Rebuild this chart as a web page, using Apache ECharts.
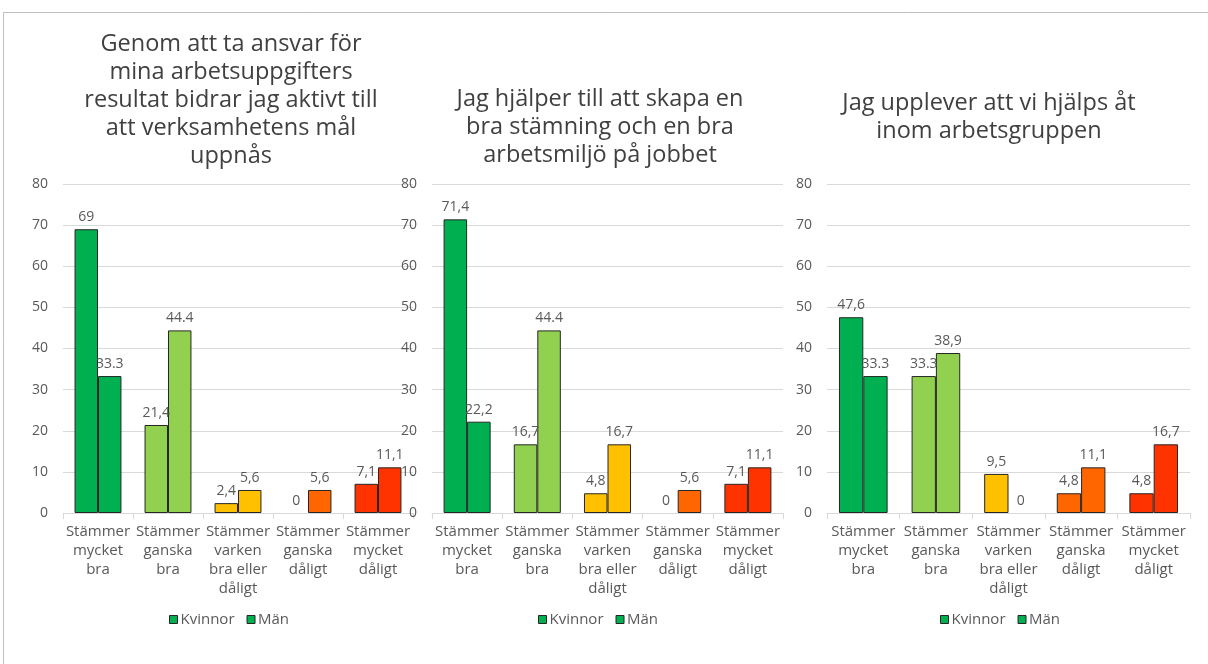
<!DOCTYPE html>
<html><head><meta charset="utf-8">
<script src="https://cdn.jsdelivr.net/npm/echarts@6/dist/echarts.min.js"></script>
<style>html,body{margin:0;padding:0;background:#fff}#c{width:1208px;height:664px}</style>
</head><body><div id="c"></div>
<script>
const categories = ['Stämmer\nmycket\nbra','Stämmer\nganska\nbra','Stämmer\nvarken\nbra eller\ndåligt','Stämmer\nganska\ndåligt','Stämmer\nmycket\ndåligt'];
const titles = [
  'Genom att ta ansvar för\nmina arbetsuppgifters\nresultat bidrar jag aktivt till\natt verksamhetens mål\nuppnås',
  'Jag hjälper till att skapa en\nbra stämning och en bra\narbetsmiljö på jobbet',
  'Jag upplever att vi hjälps åt\ninom arbetsgruppen'
];
const seriesNames = ['Kvinnor','Män'];
const kvinnor1 = [69, 21.4, 2.4, 0, 7.1];
const man1     = [33.3, 44.4, 5.6, 5.6, 11.1];
const kvinnor2 = [71.4, 16.7, 4.8, 0, 7.1];
const man2     = [22.2, 44.4, 16.7, 5.6, 11.1];
const kvinnor3 = [47.6, 33.3, 9.5, 4.8, 4.8];
const man3     = [33.3, 38.9, 0, 11.1, 16.7];
const kvinnorLabels1 = ['69','21,4','2,4','0','7,1'];
const manLabels1     = ['33.3','44.4','5,6','5,6','11,1'];
const kvinnorLabels2 = ['71,4','16,7','4,8','0','7,1'];
const manLabels2     = ['22,2','44.4','16,7','5,6','11,1'];
const kvinnorLabels3 = ['47,6','33.3','9,5','4,8','4,8'];
const manLabels3     = ['33.3','38,9','0','11,1','16,7'];
const yTicks = [0, 80, 10];
const catColors = ['#00B050','#92D050','#FFC000','#FF6600','#FF3300'];

const FONT = 'Open Sans';
const grids = [
  {left: 63, top: 184, width: 350, height: 329},
  {left: 432, top: 184, width: 351, height: 329},
  {left: 827, top: 184, width: 363, height: 329}
];
const titlePos = [{x: 226, y: 25}, {x: 595, y: 80}, {x: 984, y: 84}];
const legendPos = [164, 533, 935];

const panels = [
  [kvinnor1, man1, kvinnorLabels1, manLabels1],
  [kvinnor2, man2, kvinnorLabels2, manLabels2],
  [kvinnor3, man3, kvinnorLabels3, manLabels3]
];

const series = [];
panels.forEach((p, gi) => {
  [0,1].forEach(si => {
    const vals = p[si], labs = p[si+2];
    series.push({
      name: seriesNames[si], type: 'bar', xAxisIndex: gi, yAxisIndex: gi,
      barGap: '0%', barCategoryGap: '33%',
      itemStyle: {color: '#00B050', borderColor: '#262626', borderWidth: 1},
      data: vals.map((v, i) => ({value: v, itemStyle: {color: catColors[i], borderWidth: v === 0 ? 0 : 1}})),
      label: {show: true, position: 'top', distance: 5, color: '#595959', fontFamily: FONT, fontSize: 14,
        formatter: (d) => labs[d.dataIndex]}
    });
  });
});

const chart = echarts.init(document.getElementById('c'));
chart.setOption({
  animation: false,
  textStyle: {fontFamily: FONT},
  title: titles.map((t, i) => ({
    text: t, left: titlePos[i].x, top: titlePos[i].y, textAlign: 'center',
    textStyle: {fontFamily: FONT, fontSize: 23.5, fontWeight: 'normal', color: '#404040', lineHeight: 28}
  })),
  legend: legendPos.map(l => ({
    data: seriesNames, left: l, top: 607, icon: 'rect', itemWidth: 8, itemHeight: 8, itemGap: 12,
    itemStyle: {borderColor: '#262626', borderWidth: 1},
    textStyle: {fontFamily: FONT, fontSize: 15, color: '#595959', padding: [0,0,0,-2]}
  })),
  grid: grids,
  xAxis: grids.map((g, i) => ({
    type: 'category', gridIndex: i, data: categories,
    axisLine: {lineStyle: {color: '#D9D9D9'}},
    axisTick: {show: true, length: 6, lineStyle: {color: '#D9D9D9'}},
    axisLabel: {interval: 0, color: '#595959', fontFamily: FONT, fontSize: 15, lineHeight: 19, margin: 9}
  })),
  yAxis: grids.map((g, i) => ({
    type: 'value', gridIndex: i, min: yTicks[0], max: yTicks[1], interval: yTicks[2],
    axisLine: {show: false}, axisTick: {show: false},
    splitLine: {lineStyle: {color: '#D9D9D9'}},
    axisLabel: {color: '#595959', fontFamily: FONT, fontSize: 14, margin: 15}
  })),
  graphic: [{type: 'rect', shape: {x: 3.5, y: 12.5, width: 1400, height: 800},
    style: {fill: 'none', stroke: '#BFBFBF', lineWidth: 1}, silent: true}],
  series: series
});
</script></body></html>
